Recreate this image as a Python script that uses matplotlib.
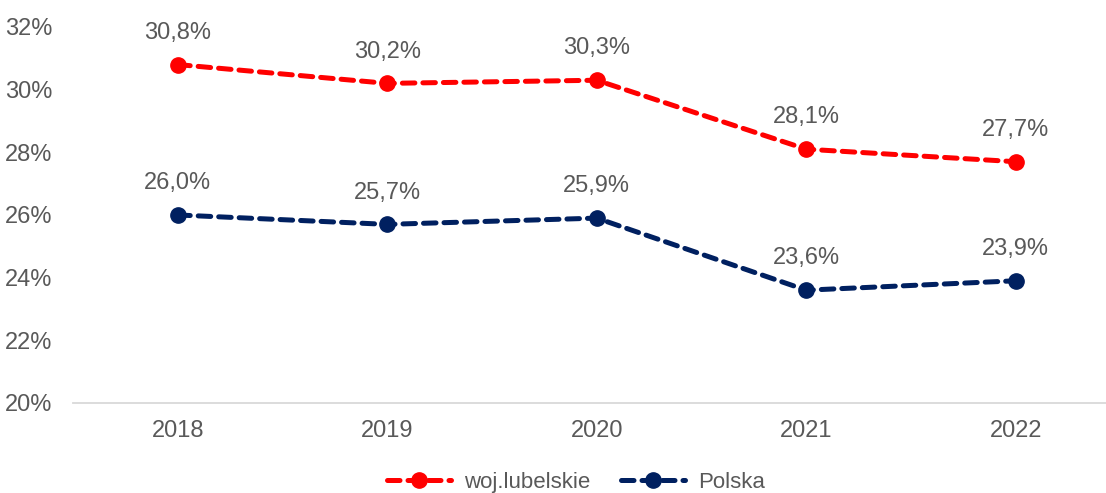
import matplotlib
matplotlib.use("Agg")
import matplotlib.pyplot as plt
from matplotlib.ticker import FuncFormatter

years = ["2018", "2019", "2020", "2021", "2022"]
lubelskie = [30.8, 30.2, 30.3, 28.1, 27.7]
polska = [26.0, 25.7, 25.9, 23.6, 23.9]
series_names = ["woj.lubelskie", "Polska"]

plt.rcParams['font.family'] = ['Liberation Sans', 'DejaVu Sans']
gray = "#595959"

fig = plt.figure(figsize=(11.06, 4.93), dpi=100)
ax = fig.add_axes([0.066, 0.1826, 0.947, 0.7627])

x = list(range(len(years)))
for vals, col, name in [(lubelskie, "#FF0000", series_names[0]), (polska, "#002060", series_names[1])]:
    ax.plot(x, vals, color=col, lw=3.6, ls=(0, (2.5, 1.6)), marker="o", ms=11,
            label=name, solid_capstyle="round", dash_capstyle="round")
    for xi, v in zip(x, vals):
        ax.annotate(f"{v:.1f}%".replace(".", ","), (xi, v), xytext=(0, 15),
                    textcoords="offset points", ha="center", va="bottom",
                    fontsize=17, color=gray)

ax.set_xlim(-0.5, 4.5)
ax.set_ylim(20, 32)
ax.set_yticks([20, 22, 24, 26, 28, 30, 32])
ax.yaxis.set_major_formatter(FuncFormatter(lambda v, p: f"{v:.0f}%"))
ax.set_xticks(x)
ax.set_xticklabels(years)
for s in ["top", "right", "left"]:
    ax.spines[s].set_visible(False)
ax.spines["bottom"].set_color("#D9D9D9")
ax.spines["bottom"].set_linewidth(1.3)
ax.tick_params(axis="both", length=0, labelsize=17, labelcolor=gray)
ax.tick_params(axis="x", pad=12)
ax.tick_params(axis="y", pad=15)

leg = fig.legend(loc="lower center", bbox_to_anchor=(576 / 1106, -0.04), ncol=2, frameon=False,
                 fontsize=16, labelcolor=gray, handlelength=2.9, handletextpad=0.6,
                 columnspacing=1.35)

fig.savefig("out.png", dpi=100)
